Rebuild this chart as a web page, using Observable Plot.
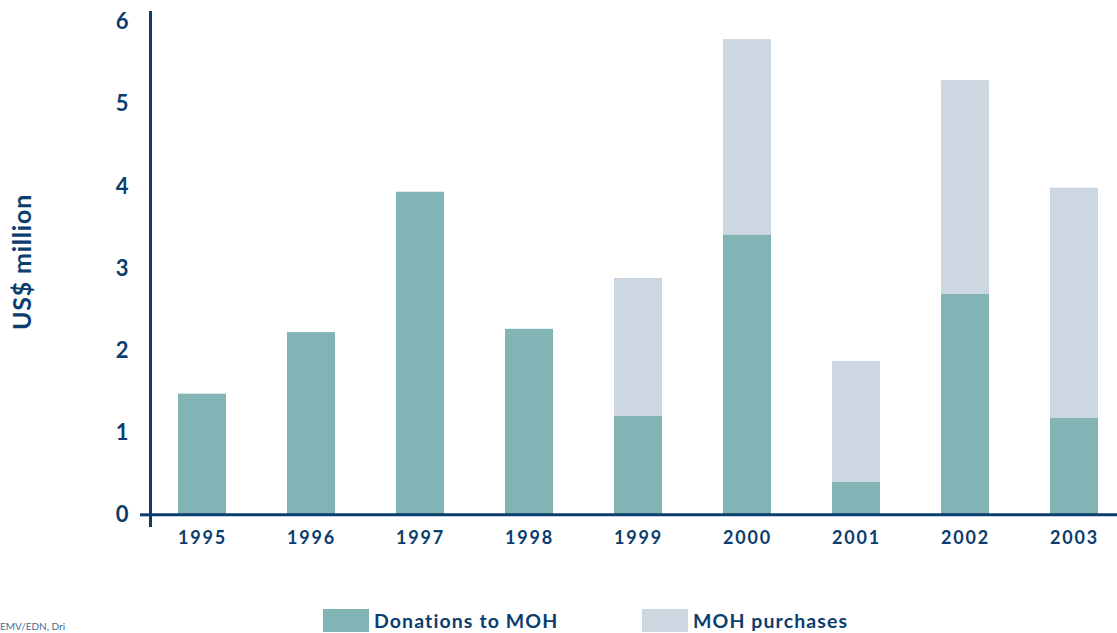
<!DOCTYPE html>
<html>
<head>
<meta charset="utf-8">
<script src="https://cdn.jsdelivr.net/npm/d3@7"></script>
<script src="https://cdn.jsdelivr.net/npm/@observablehq/plot@0.6"></script>
<style>
  html, body { margin: 0; padding: 0; background: #fff; overflow: hidden; width: 1117px; height: 633px; }
  #wrap { position: relative; width: 1117px; height: 633px; font-family: Lato, "Open Sans", sans-serif; }
  #chart { position: absolute; left: 0; top: 0; }
  .leg { position: absolute; top: 609px; display: flex; align-items: center; font-weight: bold; font-size: 19.5px; color: #0b3d6e; letter-spacing: 1.1px; }
  .sw { width: 46px; height: 23px; margin-right: 5px; }
  #src { position: absolute; left: 0; top: 620px; font-size: 10px; line-height: 12px; color: #4a6a90; white-space: nowrap; }
  g[aria-label="y-axis label"] text { font-size: 25px; letter-spacing: 0.8px; }
</style>
</head>
<body>
<div id="wrap">
  <div id="chart"></div>
  <div class="leg" id="leg1" style="left:323px"></div>
  <div class="leg" id="leg2" style="left:642px"></div>
  <div id="src">EMV/EDN, Dri</div>
</div>
<script>
const years = ["1995","1996","1997","1998","1999","2000","2001","2002","2003"];
const donations = [1.47, 2.22, 3.93, 2.26, 1.20, 3.41, 0.40, 2.69, 1.18];
const purchases = [0, 0, 0, 0, 1.68, 2.38, 1.47, 2.60, 2.80];
const seriesNames = ["Donations to MOH", "MOH purchases"];
const seriesColors = ["#82b4b5", "#cdd7e1"];
const yTicks = [0, 1, 2, 3, 4, 5, 6];
const navy = "#0b3d6e";

const table = [];
years.forEach((yr, i) => {
  table.push({year: yr, series: seriesNames[0], value: donations[i]});
  table.push({year: yr, series: seriesNames[1], value: purchases[i]});
});

const chart = Plot.plot({
  width: 1117,
  height: 560,
  marginLeft: 150,
  marginRight: 0,
  marginTop: 12,
  marginBottom: 35,
  style: {fontFamily: "Lato, 'Open Sans', sans-serif", color: navy, background: "transparent"},
  x: {domain: years, paddingInner: 0.56, paddingOuter: 0.19, align: 0.6, label: null},
  y: {domain: [-0.13, 6.12], label: null},
  color: {domain: seriesNames, range: seriesColors},
  marks: [
    Plot.barY(table, {x: "year", y: "value", fill: "series", order: seriesNames}),
    Plot.frame({anchor: "left", stroke: navy, strokeWidth: 3}),
    Plot.ruleY([0], {stroke: navy, strokeWidth: 3}),
    Plot.axisY({ticks: [0], tickSize: 10, stroke: navy, strokeWidth: 3, text: null, label: null}),
    Plot.axisY({ticks: yTicks, tickFormat: "d", tickSize: 0, tickPadding: 22, fontSize: 22, fontWeight: "bold", fill: navy,
      label: "US$ million", labelAnchor: "center", labelArrow: "none", labelOffset: 137}),
    Plot.axisX({tickSize: 0, tickPadding: 6, fontSize: 18, fontWeight: "bold", fill: navy, label: null})
  ]
});
chart.querySelectorAll('g[aria-label="x-axis tick label"] text').forEach(t => t.style.letterSpacing = "1.8px");
const lab = chart.querySelector('g[aria-label="y-axis label"]');
if (lab) lab.setAttribute("transform", (lab.getAttribute("transform") || "") + " translate(0,-7)");
document.getElementById("chart").appendChild(chart);

[["leg1", 0], ["leg2", 1]].forEach(([id, i]) => {
  const el = document.getElementById(id);
  const sw = document.createElement("div");
  sw.className = "sw";
  sw.style.background = seriesColors[i];
  el.appendChild(sw);
  const tx = document.createElement("span");
  tx.textContent = seriesNames[i];
  el.appendChild(tx);
});
</script>
</body>
</html>
